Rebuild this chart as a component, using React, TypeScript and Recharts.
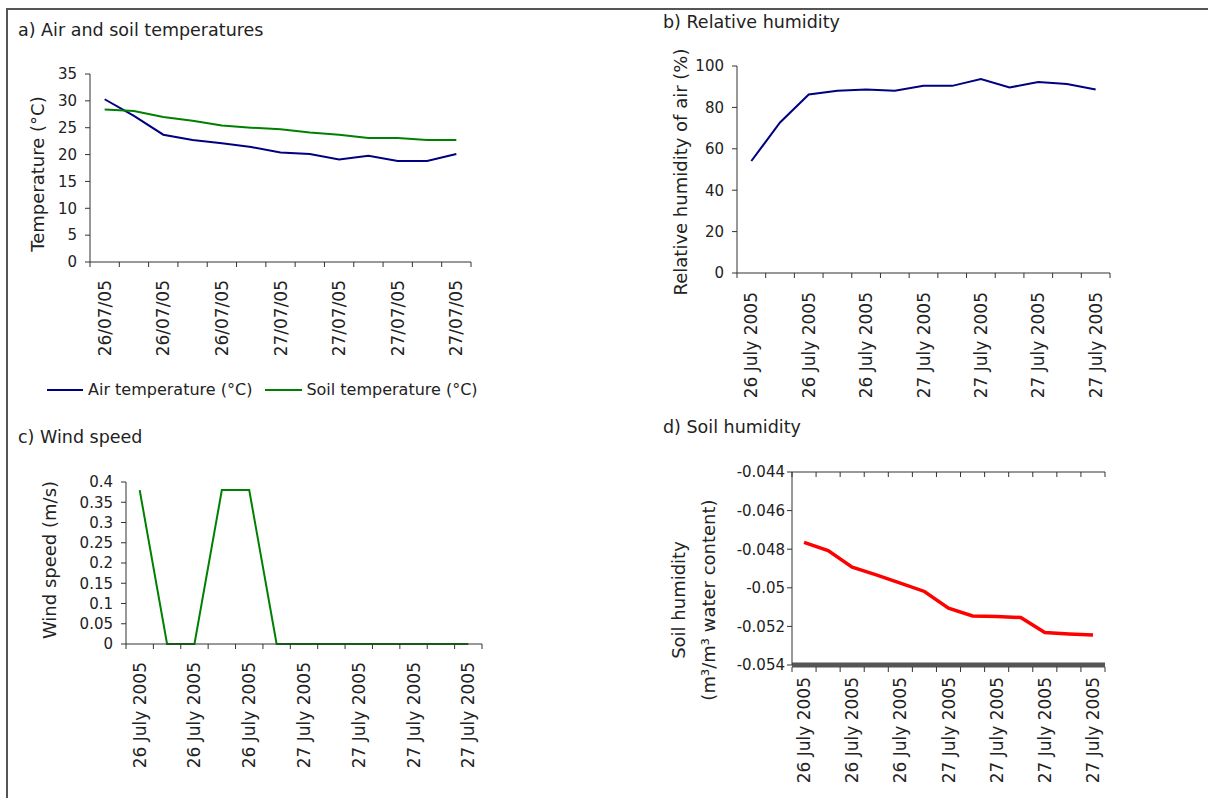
import React from 'react';
import { LineChart, Line, XAxis, YAxis, Legend } from 'recharts';

const FONT = '"DejaVu Sans", Verdana, sans-serif';
const INK = '#222';
const AXIS = '#333';

// a) air and soil temperatures
const shortDates = [
  '26/07/05', '26/07/05', '26/07/05', '26/07/05', '26/07/05', '26/07/05',
  '27/07/05', '27/07/05', '27/07/05', '27/07/05', '27/07/05', '27/07/05', '27/07/05',
];
const airTemp = [30.3, 27.2, 23.7, 22.7, 22.1, 21.4, 20.4, 20.1, 19.1, 19.8, 18.8, 18.8, 20.1];
const soilTemp = [28.4, 28.1, 27.0, 26.3, 25.4, 25.0, 24.7, 24.1, 23.7, 23.1, 23.1, 22.7, 22.7];
const tempTicks = [0, 5, 10, 15, 20, 25, 30, 35];

// shared long date labels for b, c, d
const longDates = [
  '26 July 2005', '26 July 2005', '26 July 2005', '26 July 2005', '26 July 2005', '26 July 2005',
  '27 July 2005', '27 July 2005', '27 July 2005', '27 July 2005', '27 July 2005', '27 July 2005', '27 July 2005',
];

// b) relative humidity
const relHumidity = [54.1, 72.7, 86.2, 88.0, 88.6, 88.0, 90.4, 90.4, 93.7, 89.6, 92.3, 91.3, 88.6];
const rhTicks = [0, 20, 40, 60, 80, 100];

// c) wind speed
const windSpeed = [0.38, 0, 0, 0.38, 0.38, 0, 0, 0, 0, 0, 0, 0, 0];
const windTicks = [0, 0.05, 0.1, 0.15, 0.2, 0.25, 0.3, 0.35, 0.4];

// d) soil humidity
const soilHumidity = [-0.04765, -0.04807, -0.04893, -0.04933, -0.04976, -0.05019, -0.05106,
  -0.05146, -0.05149, -0.05154, -0.05232, -0.05239, -0.05244];
const soilTicks = [-0.054, -0.052, -0.05, -0.048, -0.046, -0.044];

// points sit in the middle of each category slot, like Excel's "between tick marks"
const tempData = shortDates.map((label, i) => ({ x: i + 0.5, label, air: airTemp[i], soil: soilTemp[i] }));
const rhData = longDates.map((label, i) => ({ x: i + 0.5, label, rh: relHumidity[i] }));
const windData = longDates.map((label, i) => ({ x: i + 0.5, label, wind: windSpeed[i] }));
const soilData = longDates.map((label, i) => ({ x: i + 0.5, label, sh: soilHumidity[i] }));

const N = 13;
const boundaries: number[] = [];
for (let i = 0; i <= N; i++) boundaries.push(i);
const xTicks: number[] = [...boundaries];
for (let i = 0; i < N; i += 2) xTicks.push(i + 0.5);
xTicks.sort((a, b) => a - b);

// boundary values get a tick mark, half values get a rotated date label
const dateTick = (labels: string[], gap: number, tickFrom = 0) => (props: any) => {
  const { x, y, payload } = props;
  const v = Number(payload.value);
  const base = y - 5;
  if (Number.isInteger(v)) {
    return <line x1={x} x2={x} y1={base + tickFrom} y2={base + tickFrom + 5} stroke={AXIS} />;
  }
  const ty = base + gap;
  return (
    <text x={x} y={ty} transform={`rotate(-90 ${x} ${ty})`} textAnchor="end"
      dominantBaseline="central" fontSize={17} fill={INK}>
      {labels[Math.floor(v)]}
    </text>
  );
};

// top axis of panel d: tick marks pointing down into the plot
const topTick = (props: any) => {
  const { x, y } = props;
  return <line x1={x} x2={x} y1={y} y2={y + 5} stroke={AXIS} />;
};

const yTitle = (lines: string[], cx: number, cy: number, step = 30) => ({
  content: () => (
    <g>
      {lines.map((s, i) => {
        const x = cx + i * step;
        return (
          <text key={i} x={x} y={cy} transform={`rotate(-90 ${x} ${cy})`} textAnchor="middle"
            dominantBaseline="central" fontSize={18} fill={INK}>{s}</text>
        );
      })}
    </g>
  ),
});

const yTick = { fontSize: 15, fill: INK };
const fmt = (v: number) => String(+Number(v).toFixed(3));

const titleStyle = (left: number, top: number): React.CSSProperties => ({
  position: 'absolute', left, top, fontSize: 17.5, lineHeight: '20px', color: INK, whiteSpace: 'nowrap',
});
const box = (left: number, top: number): React.CSSProperties => ({ position: 'absolute', left, top });

const TempLegend = () => (
  <div style={{ display: 'flex', alignItems: 'center', fontSize: 16, lineHeight: '20px', color: INK, whiteSpace: 'nowrap' }}>
    <svg width={36} height={20}><line x1={0} x2={36} y1={10} y2={10} stroke="#000080" strokeWidth={2} /></svg>
    <span style={{ marginLeft: 5 }}>Air temperature (°C)</span>
    <svg width={37} height={20} style={{ marginLeft: 13 }}><line x1={0} x2={37} y1={10} y2={10} stroke="#008000" strokeWidth={2} /></svg>
    <span style={{ marginLeft: 4 }}>Soil temperature (°C)</span>
  </div>
);

export default function App() {
  return (
    <div style={{ position: 'absolute', left: 0, top: 0, width: 1208, height: 798, background: '#fff', fontFamily: FONT, overflow: 'hidden' }}>
      <div style={{ position: 'absolute', left: 6, top: 8, width: 1202, height: 790, borderLeft: '2px solid #555', borderTop: '2px solid #555' }} />

      <div style={titleStyle(18, 20)}>a) Air and soil temperatures</div>
      <div style={titleStyle(663, 12)}>b) Relative humidity</div>
      <div style={titleStyle(18, 427)}>c) Wind speed</div>
      <div style={titleStyle(663, 417)}>d) Soil humidity</div>

      <div style={box(0, 0)}>
        <LineChart width={500} height={410} data={tempData} margin={{ top: 74, right: 29, left: 0, bottom: 48 }}>
          <XAxis dataKey="x" type="number" domain={[0, N]} ticks={xTicks} interval={0} height={100}
            tickSize={5} tickMargin={0} tickLine={false} axisLine={{ stroke: AXIS }} tick={dateTick(shortDates, 18)} />
          <YAxis type="number" domain={[0, 35]} ticks={tempTicks} interval={0} width={90} tickSize={5} tickMargin={8}
            tick={yTick} axisLine={{ stroke: AXIS }} tickLine={{ stroke: AXIS }}
            label={yTitle(['Temperature (°C)'], 37, 174)} />
          <Legend layout="horizontal" verticalAlign="middle" align="center"
            wrapperStyle={{ top: 380, left: 47 }} content={() => <TempLegend />} />
          <Line type="linear" dataKey="air" stroke="#000080" strokeWidth={2} dot={false} isAnimationActive={false} />
          <Line type="linear" dataKey="soil" stroke="#008000" strokeWidth={2} dot={false} isAnimationActive={false} />
        </LineChart>
      </div>

      <div style={box(600, 0)}>
        <LineChart width={520} height={410} data={rhData} margin={{ top: 66, right: 10, left: 0, bottom: 27 }}>
          <XAxis dataKey="x" type="number" domain={[0, N]} ticks={xTicks} interval={0} height={110}
            tickSize={5} tickMargin={0} tickLine={false} axisLine={{ stroke: AXIS }} tick={dateTick(longDates, 19)} />
          <YAxis type="number" domain={[0, 100]} ticks={rhTicks} interval={0} width={137} tickSize={5} tickMargin={8}
            tick={yTick} axisLine={{ stroke: AXIS }} tickLine={{ stroke: AXIS }}
            label={yTitle(['Relative humidity of air (%)'], 80, 172)} />
          <Line type="linear" dataKey="rh" stroke="#000080" strokeWidth={2} dot={false} isAnimationActive={false} />
        </LineChart>
      </div>

      <div style={box(0, 410)}>
        <LineChart width={500} height={388} data={windData} margin={{ top: 72, right: 18, left: 0, bottom: 34 }}>
          <XAxis dataKey="x" type="number" domain={[0, N]} ticks={xTicks} interval={0} height={120}
            tickSize={5} tickMargin={0} tickLine={false} axisLine={{ stroke: AXIS }} tick={dateTick(longDates, 18)} />
          <YAxis type="number" domain={[0, 0.4]} ticks={windTicks} interval={0} width={126} tickSize={5} tickMargin={8}
            tick={yTick} tickFormatter={fmt} axisLine={{ stroke: AXIS }} tickLine={{ stroke: AXIS }}
            label={yTitle(['Wind speed (m/s)'], 49, 150)} />
          <Line type="linear" dataKey="wind" stroke="#008000" strokeWidth={2} dot={false} isAnimationActive={false} />
        </LineChart>
      </div>

      <div style={box(600, 410)}>
        <LineChart width={520} height={388} data={soilData} margin={{ top: 61, right: 15, left: 0, bottom: 13 }}>
          <XAxis dataKey="x" type="number" domain={[0, N]} ticks={xTicks} interval={0} height={120}
            tickSize={5} tickMargin={0} tickLine={false} axisLine={{ stroke: '#555', strokeWidth: 5 }}
            tick={dateTick(longDates, 12, 2)} />
          <XAxis xAxisId="top" orientation="top" dataKey="x" type="number" domain={[0, N]} ticks={boundaries}
            interval={0} height={1} tickSize={0} tickMargin={0} tickLine={false} tick={topTick}
            axisLine={{ stroke: AXIS }} />
          <YAxis type="number" domain={[-0.054, -0.044]} ticks={soilTicks} interval={0} width={192} tickSize={5} tickMargin={2}
            tick={yTick} tickFormatter={fmt} axisLine={{ stroke: AXIS }} tickLine={{ stroke: AXIS }}
            label={yTitle(['Soil humidity', '(m³/m³ water content)'], 78, 190)} />
          <Line type="linear" dataKey="sh" stroke="#ff0000" strokeWidth={3.5} dot={false} isAnimationActive={false} />
        </LineChart>
      </div>
    </div>
  );
}
